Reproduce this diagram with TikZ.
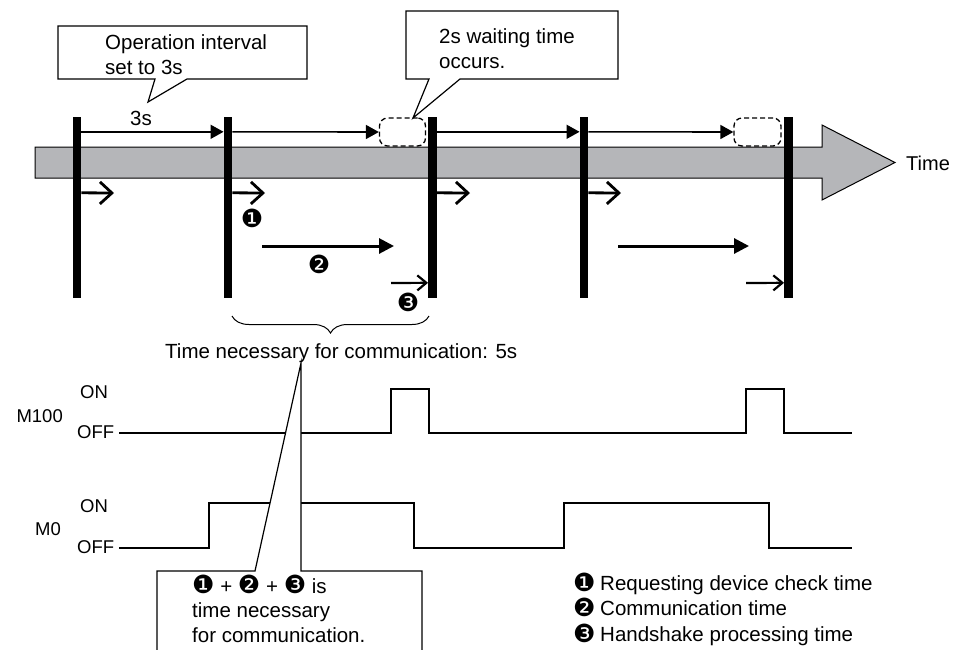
\documentclass[tikz,border=0pt]{standalone}
\usepackage{fontspec}
\setmainfont{Liberation Sans}
\newfontfamily\dingf{DejaVu Sans}
\usetikzlibrary{arrows.meta,decorations.pathreplacing}
\definecolor{arrowgray}{RGB}{181,182,185}
\begin{document}
\begin{tikzpicture}[x=1pt,y=-1pt,
  txt/.style={font=\fontsize{20.5}{25}\selectfont, inner sep=0, anchor=base west},
  lbl/.style={font=\fontsize{18.5}{22}\selectfont, inner sep=0, anchor=base west},
  lblr/.style={font=\fontsize{18.5}{22}\selectfont, inner sep=0, anchor=base east},
  ding/.style={font=\dingf\fontsize{25}{28}\selectfont, inner sep=0, anchor=center},
  bar/.style={fill=black, draw=none, minimum width=8.5pt, minimum height=181pt, inner sep=0},
  waitbox/.style={draw, dashed, dash pattern=on 5pt off 3pt, rounded corners=8pt, line width=1.3pt, minimum width=46pt, minimum height=28pt, inner sep=0},
  topar/.style={line width=1.6pt, -{Triangle[length=13pt,width=14pt]}},
  chev/.style={line width=2.8pt, -{Straight Barb[length=12pt,width=22pt]}},
  commar/.style={line width=3pt, -{Triangle[length=15pt,width=15pt]}},
  hsar/.style={line width=2.2pt, -{Straight Barb[length=9pt,width=15pt]}},
  wave/.style={line width=1.6pt},
  call/.style={draw, fill=white, line width=1.2pt, line join=miter}
]
\useasboundingbox (0,0) rectangle (953,649);

% time axis arrow
\draw[fill=arrowgray, line width=1pt] (35,147) -- (822,147) -- (822,125) -- (895,162.5) -- (822,200) -- (822,178) -- (35,178) -- cycle;
\node[txt, font=\fontsize{20}{24}\selectfont] (time) at (906,170) {Time};

% bars
\node[bar] (b1) at (77,207.5) {};
\node[bar] (b2) at (228,207.5) {};
\node[bar] (b3) at (432.5,207.5) {};
\node[bar] (b4) at (584,207.5) {};
\node[bar] (b5) at (788.5,207.5) {};

% waiting boxes
\node[waitbox] (w1) at (402.5,132) {};
\node[waitbox, minimum width=47pt] (w2) at (757.5,132) {};

% top arrows
\draw[topar] ([yshift=-15pt]b1.north east) -- ([yshift=-15pt]b2.north west);
\draw[topar] ([yshift=-15pt]b2.north east) -- (w1.west);
\draw[topar] ([yshift=-15pt]b3.north east) -- ([yshift=-15pt]b4.north west);
\draw[topar] ([yshift=-15pt]b4.north east) -- (w2.west);
\node[txt] (s3) at (130,125) {3s};

% small check arrows
\coordinate (k1) at (114,193);
\coordinate (k2) at (265,193);
\coordinate (k3) at (470,193);
\coordinate (k4) at (621,193);
\draw[chev] ([yshift=-76pt]b1.north east) -- (k1);
\draw[chev] ([yshift=-76pt]b2.north east) -- (k2);
\draw[chev] ([yshift=-76pt]b3.north east) -- (k3);
\draw[chev] ([yshift=-76pt]b4.north east) -- (k4);

% communication arrows
\coordinate (c2a) at (262,246);
\coordinate (c2b) at (394,246);
\coordinate (c2c) at (618,246);
\coordinate (c2d) at (749,246);
\draw[commar] (c2a) -- (c2b);
\draw[commar] (c2c) -- (c2d);

% handshake arrows
\coordinate (h1) at (391,283);
\coordinate (h2) at (746,283);
\draw[hsar] (h1) -- ([yshift=-166pt]b3.north west);
\draw[hsar] (h2) -- ([yshift=-166pt]b5.north west);

\node[ding] (n1) at (252,218) {❶};
\node[ding] (n2) at (319,264) {❷};
\node[ding] (n3) at (408,302) {❸};

% callout 1
\draw[call] (58,26) -- (307,26) -- (307,79) -- (187,79) -- (148,102) -- (155,79) -- (58,79) -- cycle;
\node[txt] (c1a) at (105,49) {Operation interval};
\node[txt] (c1b) at (105,74) {set to 3s};

% callout 2
\draw[call] (406,11) -- (618,11) -- (618,79) -- (460,79) -- (413,118) -- (429,79) -- (406,79) -- cycle;
\node[txt] (c2l1) at (439,43) {2s waiting time};
\node[txt] (c2l2) at (439,68) {occurs.};

% brace
\draw[decorate, decoration={brace, amplitude=17pt}, line width=1pt] (429,316) -- (232,316);
\node[txt] (tn) at (165,358) {Time necessary for communication: 5s};

% waveforms
\draw[wave] (119,433) -- (391,433) -- (391,389) -- (429,389) -- (429,433) -- (746,433) -- (746,389) -- (784,389) -- (784,433) -- (852,433);
\draw[wave] (119,548) -- (209,548) -- (209,503) -- (414,503) -- (414,548) -- (564,548) -- (564,503) -- (769,503) -- (769,548) -- (852,548);
\node[lbl] (on1) at (80,398) {ON};
\node[lblr] (m100) at (63,422) {M100};
\node[lbl] (off1) at (77,438) {OFF};
\node[lbl] (on2) at (80,512) {ON};
\node[lblr] (m0) at (61,535) {M0};
\node[lbl] (off2) at (77,553) {OFF};

% callout 3
\draw[call] (157,652) -- (157,571) -- (255,571) -- (301,363) -- (301,571) -- (422,571) -- (422,652);
\node[txt] (c3a) at (192,593) {{\dingf\fontsize{25}{28}\selectfont ❶} + {\dingf\fontsize{25}{28}\selectfont ❷} + {\dingf\fontsize{25}{28}\selectfont ❸} is};
\node[txt] (c3b) at (192,617) {time necessary};
\node[txt] (c3c) at (192,642) {for communication.};

% legend
\node[ding, anchor=base west] (l1) at (573,591) {❶};
\node[txt] (t1) at (600,590) {Requesting device check time};
\node[ding, anchor=base west] (l2) at (573,616) {❷};
\node[txt] (t2) at (600,615) {Communication time};
\node[ding, anchor=base west] (l3) at (573,642) {❸};
\node[txt] (t3) at (600,641) {Handshake processing time};
\end{tikzpicture}
\end{document}
